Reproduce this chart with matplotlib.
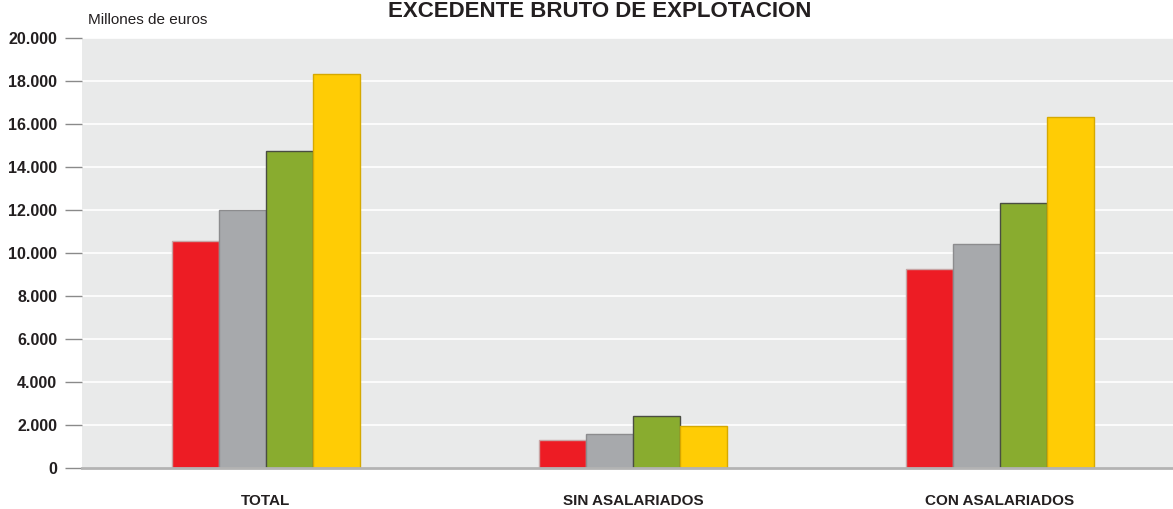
import numpy as np
import matplotlib
matplotlib.use('Agg')
import matplotlib.pyplot as plt

# data (millones de euros)
categories = ['TOTAL', 'SIN ASALARIADOS', 'CON ASALARIADOS']
series_1 = [10560, 1300, 9260]    # red
series_2 = [12000, 1580, 10420]   # grey
series_3 = [14740, 2420, 12330]   # green
series_4 = [18330, 1950, 16330]   # yellow
yticks = [0, 2000, 4000, 6000, 8000, 10000, 12000, 14000, 16000, 18000, 20000]
ytick_labels = ['0', '2.000', '4.000', '6.000', '8.000', '10.000', '12.000',
                '14.000', '16.000', '18.000', '20.000']

fills = ['#ED1C24', '#A7A9AC', '#89AC2F', '#FFCC05']
edges = ['#c8a4a4', '#8c8c8e', '#4a4d42', '#d6a900']

plt.rcParams['font.family'] = ['Liberation Sans', 'DejaVu Sans']

fig = plt.figure(figsize=(11.73, 5.09), dpi=100)
ax = fig.add_axes([82 / 1173, 1 - 468 / 509, 1 - 82 / 1173, 430 / 509])
ax.set_facecolor('#E9EAEA')

x = np.arange(len(categories))
w = 0.128
all_series = [series_1, series_2, series_3, series_4]
for i, vals in enumerate(all_series):
    ax.bar(x + (i - 1.5) * w, vals, width=w, color=fills[i], edgecolor=edges[i],
           linewidth=1.0, zorder=3)

ax.set_xlim(-0.5, 2.471)
ax.set_ylim(0, 20000)
ax.set_yticks(yticks)
ax.set_yticklabels(ytick_labels, fontsize=11.5, fontweight='bold', color='#231f20')
ax.yaxis.grid(True, color='white', linewidth=1.2, zorder=1)
ax.set_axisbelow(True)
ax.tick_params(axis='y', length=12, width=1, color='#8a8a8a', pad=6)

ax.set_xticks(x)
ax.set_xticklabels(categories, fontsize=11, fontweight='bold', color='#231f20')
ax.tick_params(axis='x', length=0, pad=19)

for s in ['top', 'right', 'left']:
    ax.spines[s].set_visible(False)
ax.spines['bottom'].set_color('#b3b3b3')
ax.spines['bottom'].set_linewidth(2)
ax.spines['bottom'].set_zorder(4)

fig.text(88 / 1173, 1 - 20 / 509, 'Millones de euros', fontsize=11,
         ha='left', va='center', color='#231f20')
fig.text(600 / 1173, 1 - 1 / 509, 'EXCEDENTE BRUTO DE EXPLOTACIÓN',
         fontsize=16, fontweight='bold', ha='center', va='top',
         color='#231f20')

fig.savefig('out.png', dpi=100)
